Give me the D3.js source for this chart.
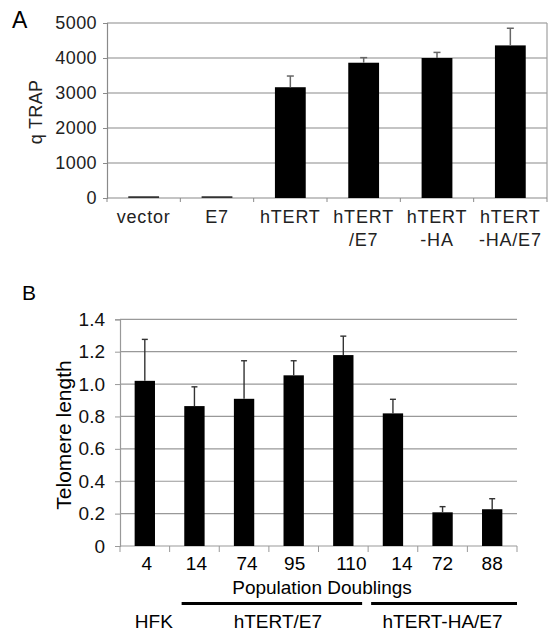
<!DOCTYPE html>
<html>
<head>
<meta charset="utf-8">
<script src="https://cdn.jsdelivr.net/npm/d3@7"></script>
<style>
  body { margin: 0; background: #fff; }
  text { font-family: "Liberation Sans", Arial, sans-serif; }
</style>
</head>
<body>
<svg id="fig" width="554" height="634"></svg>
<script>
'use strict';
// panel A data
var trapGroups = [['vector'], ['E7'], ['hTERT'], ['hTERT', '/E7'], ['hTERT', '-HA'], ['hTERT', '-HA/E7']];
var trapValues = [50, 50, 3165, 3865, 4000, 4360];
var trapErrors = [0, 0, 320, 145, 160, 490];
var trapTicks = [0, 1000, 2000, 3000, 4000, 5000];

// panel B data
var pdLabels = ['4', '14', '74', '95', '110', '14', '72', '88'];
var telValues = [1.02, 0.864, 0.909, 1.054, 1.179, 0.819, 0.208, 0.227];
var telErrors = [0.256, 0.119, 0.235, 0.09, 0.117, 0.087, 0.035, 0.065];
var telTicks = [0, 0.2, 0.4, 0.6, 0.8, 1.0, 1.2, 1.4];
var cellLines = [
  {name: 'HFK', from: 0, to: 0, line: false},
  {name: 'hTERT/E7', from: 1, to: 4, line: true},
  {name: 'hTERT-HA/E7', from: 5, to: 7, line: true}
];

var svg = d3.select('#fig');

//panel A
function drawTrap() {
  var idx = d3.range(trapValues.length);
  var x = d3.scaleBand().domain(idx).range([107, 547]);
  var y = d3.scaleLinear().domain([0, 5000]).range([198, 23]);
  var g = svg.append('g');
  var bw = x.bandwidth() * 0.42;

  g.selectAll('line.grid')
    .data(trapTicks.slice(1))
    .enter().append('line')
    .attr('x1', 107).attr('x2', 547)
    .attr('y1', function(d) { return y(d); })
    .attr('y2', function(d) { return y(d); })
    .attr('stroke', '#8a8a8a').attr('stroke-width', 1.2);

  // right border
  g.append('line')
    .attr('x1', 547).attr('x2', 547).attr('y1', y(5000)).attr('y2', y(0))
    .attr('stroke', '#a0a0a0').attr('stroke-width', 1.2);

  var ax = g.append('g')
    .attr('transform', 'translate(107,0)')
    .call(d3.axisLeft(y).tickValues(trapTicks).tickFormat(d3.format('d'))
      .tickSize(4).tickPadding(6));
  ax.select('.domain').attr('stroke', '#8a8a8a').attr('stroke-width', 1.2);
  ax.selectAll('.tick line').attr('stroke', '#8a8a8a');
  ax.selectAll('.tick text').attr('font-size', 18).attr('fill', '#222')
    .attr('letter-spacing', 0.4);

  // x axis line + boundary ticks
  g.append('line')
    .attr('x1', 107).attr('x2', 547).attr('y1', y(0)).attr('y2', y(0))
    .attr('stroke', '#8a8a8a').attr('stroke-width', 1.2);
  g.selectAll('line.xt')
    .data(d3.range(trapValues.length + 1))
    .enter().append('line')
    .attr('x1', function(d) { return 107 + d * x.step(); })
    .attr('x2', function(d) { return 107 + d * x.step(); })
    .attr('y1', y(0)).attr('y2', y(0) + 4)
    .attr('stroke', '#8a8a8a');

  g.selectAll('rect.bar')
    .data(trapValues)
    .enter().append('rect')
    .attr('x', function(d, i) { return x(i) + (x.bandwidth() - bw) / 2; })
    .attr('y', function(d) { return y(d); })
    .attr('width', bw)
    .attr('height', function(d) { return y(0) - y(d); })
    .attr('fill', function(d) { return d < 200 ? '#333' : '#000'; });

  var eb = g.selectAll('g.err')
    .data(trapValues.map(function(v, i) { return {v: v, e: trapErrors[i], i: i}; })
      .filter(function(d) { return d.e > 0; }))
    .enter().append('g')
    .attr('stroke', '#666').attr('stroke-width', 1.5);
  eb.append('line')
    .attr('x1', function(d) { return x(d.i) + x.bandwidth() / 2; })
    .attr('x2', function(d) { return x(d.i) + x.bandwidth() / 2; })
    .attr('y1', function(d) { return y(d.v); })
    .attr('y2', function(d) { return y(d.v + d.e); });
  eb.append('line')
    .attr('x1', function(d) { return x(d.i) + x.bandwidth() / 2 - 3.5; })
    .attr('x2', function(d) { return x(d.i) + x.bandwidth() / 2 + 3.5; })
    .attr('y1', function(d) { return y(d.v + d.e); })
    .attr('y2', function(d) { return y(d.v + d.e); });

  var lbl = g.selectAll('text.cat')
    .data(trapGroups)
    .enter().append('text')
    .attr('text-anchor', 'middle')
    .attr('font-size', 18)
    .attr('letter-spacing', 0.8)
    .attr('fill', '#222')
    .attr('x', function(d, i) { return x(i) + x.bandwidth() / 2; })
    .attr('y', 223);
  lbl.selectAll('tspan')
    .data(function(d) { return d; })
    .enter().append('tspan')
    .attr('x', function() { return d3.select(this.parentNode).attr('x'); })
    .attr('dy', function(d, i) { return i === 0 ? 0 : 23; })
    .text(function(d) { return d; });

  g.append('text')
    .attr('transform', 'translate(42,112) rotate(-90)')
    .attr('text-anchor', 'middle')
    .attr('font-size', 18).attr('fill', '#222')
    .attr('letter-spacing', 0.3)
    .text('q TRAP');

  g.append('text')
    .attr('x', 12).attr('y', 28)
    .attr('font-size', 23)
    .text('A');
}

//panel B
function drawTelomere() {
  var idx = d3.range(telValues.length);
  var x = d3.scaleBand().domain(idx).range([120, 517]);
  var y = d3.scaleLinear().domain([0, 1.4]).range([546, 319.3]);
  var g = svg.append('g');
  var bw = x.bandwidth() * 0.41;
  var fmt = function(d) { return d === 0 ? '0' : d.toFixed(1); };

  g.selectAll('line.grid')
    .data(telTicks.slice(1))
    .enter().append('line')
    .attr('x1', 120).attr('x2', 517)
    .attr('y1', function(d) { return y(d); })
    .attr('y2', function(d) { return y(d); })
    .attr('stroke', '#999').attr('stroke-width', 1.2);

  var ax = g.append('g')
    .attr('transform', 'translate(120,0)')
    .call(d3.axisLeft(y).tickValues(telTicks).tickFormat(fmt).tickSize(5).tickPadding(10));
  ax.select('.domain').attr('stroke', '#999').attr('stroke-width', 1.2);
  ax.selectAll('.tick line').attr('stroke', '#999');
  ax.selectAll('.tick text').attr('font-size', 19).attr('fill', '#111');

  g.append('line')
    .attr('x1', 120).attr('x2', 517).attr('y1', y(0)).attr('y2', y(0))
    .attr('stroke', '#999').attr('stroke-width', 1.2);
  g.selectAll('line.xt')
    .data(d3.range(telValues.length + 1))
    .enter().append('line')
    .attr('x1', function(d) { return 120 + d * x.step(); })
    .attr('x2', function(d) { return 120 + d * x.step(); })
    .attr('y1', y(0)).attr('y2', y(0) + 6)
    .attr('stroke', '#999');

  g.selectAll('rect.bar')
    .data(telValues)
    .enter().append('rect')
    .attr('x', function(d, i) { return x(i) + (x.bandwidth() - bw) / 2; })
    .attr('y', function(d) { return y(d); })
    .attr('width', bw)
    .attr('height', function(d) { return y(0) - y(d); })
    .attr('fill', '#000');

  var eb = g.selectAll('g.err')
    .data(telValues.map(function(v, i) { return {v: v, e: telErrors[i], i: i}; }))
    .enter().append('g')
    .attr('stroke', '#333').attr('stroke-width', 1.4);
  eb.append('line')
    .attr('x1', function(d) { return x(d.i) + x.bandwidth() / 2; })
    .attr('x2', function(d) { return x(d.i) + x.bandwidth() / 2; })
    .attr('y1', function(d) { return y(d.v); })
    .attr('y2', function(d) { return y(d.v + d.e); });
  eb.append('line')
    .attr('x1', function(d) { return x(d.i) + x.bandwidth() / 2 - 3; })
    .attr('x2', function(d) { return x(d.i) + x.bandwidth() / 2 + 3; })
    .attr('y1', function(d) { return y(d.v + d.e); })
    .attr('y2', function(d) { return y(d.v + d.e); });

  // the 110 and second 14 labels sit a little right of their bars
  var nudge = [2, 2, 3, 1, 8, 9, 0, 0];
  g.selectAll('text.pd')
    .data(pdLabels)
    .enter().append('text')
    .attr('text-anchor', 'middle')
    .attr('font-size', 19)
    .attr('x', function(d, i) { return x(i) + x.bandwidth() / 2 + nudge[i]; })
    .attr('y', 570)
    .text(function(d) { return d; });

  g.append('text')
    .attr('x', 322).attr('y', 594)
    .attr('text-anchor', 'middle')
    .attr('font-size', 19)
    .text('Population Doublings');

  cellLines.forEach(function(c, k) {
    var x0 = x(c.from), x1 = x(c.to) + x.step();
    if (c.line) {
      g.append('line')
        .attr('x1', x0 + (k === 1 ? 12 : 3)).attr('x2', x1 - (k === 1 ? 6 : 0))
        .attr('y1', 603.5).attr('y2', 603.5)
        .attr('stroke', '#000').attr('stroke-width', 3.2);
    }
    g.append('text')
      .attr('x', (x0 + x1) / 2 + (k === 2 ? 0 : 9))
      .attr('y', 628)
      .attr('text-anchor', 'middle')
      .attr('font-size', 19)
      .text(c.name);
  });

  g.append('text')
    .attr('transform', 'translate(71,435) rotate(-90)')
    .attr('text-anchor', 'middle')
    .attr('font-size', 21)
    .text('Telomere length');

  g.append('text')
    .attr('x', 22).attr('y', 300)
    .attr('font-size', 21)
    .text('B');
}

drawTrap();
drawTelomere();
</script>
</body>
</html>
